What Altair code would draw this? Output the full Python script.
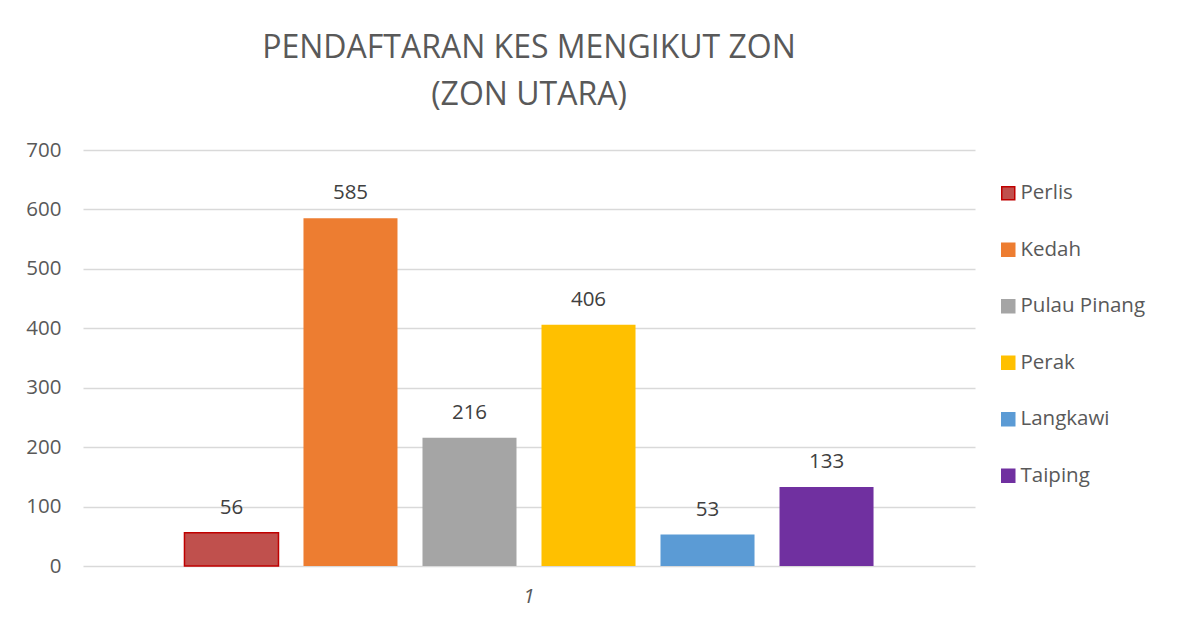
import altair as alt
import pandas as pd

zones = ["Perlis", "Kedah", "Pulau Pinang", "Perak", "Langkawi", "Taiping"]
cases = [56, 585, 216, 406, 53, 133]
group = ["1"] * 6
fills = ["#C0504D", "#ED7D31", "#A5A5A5", "#FFC000", "#5B9BD5", "#7030A0"]
strokes = ["#C00000", "#ED7D31", "#A5A5A5", "#FFC000", "#5B9BD5", "#7030A0"]

df = pd.DataFrame({"Zon": zones, "Kes": cases, "Kumpulan": group})

FONT = "Open Sans"
FS = 20.5

x = alt.X("Kumpulan:N", title=None,
          scale=alt.Scale(paddingInner=0, paddingOuter=0.1246),
          axis=alt.Axis(labelAngle=0, labelFontStyle="italic", labelFontSize=FS,
                        labelColor="#595959", labelPadding=20, ticks=False,
                        domain=False, labelFont=FONT, grid=False))
xo = alt.XOffset("Zon:N", sort=zones,
                 scale=alt.Scale(paddingInner=0.21, paddingOuter=0.105))

base = alt.Chart(df).encode(x=x, xOffset=xo)

leg = dict(title=None, orient="none", legendX=915, legendY=33,
           symbolType="square", symbolSize=169, symbolStrokeWidth=1.5,
           labelFontSize=FS, labelColor="#595959", labelFont=FONT,
           rowPadding=35.5, labelOffset=2, symbolOpacity=1)

bars = base.mark_bar().encode(
    y=alt.Y("Kes:Q", title=None,
            scale=alt.Scale(domain=[0, 700]),
            axis=alt.Axis(values=[0, 100, 200, 300, 400, 500, 600, 700],
                          labelFontSize=FS, labelColor="#595959", labelPadding=22,
                          ticks=False, domain=False, gridColor="#D9D9D9",
                          gridWidth=1.3, labelFont=FONT)),
    fill=alt.Fill("Zon:N", sort=zones,
                  scale=alt.Scale(domain=zones, range=fills),
                  legend=alt.Legend(**leg)),
    stroke=alt.Stroke("Zon:N", sort=zones,
                      scale=alt.Scale(domain=zones, range=strokes),
                      legend=alt.Legend(**leg)),
    strokeWidth=alt.condition(alt.datum.Zon == "Perlis", alt.value(1.5), alt.value(0)),
)

labels = base.mark_text(baseline="bottom", dy=-15, fontSize=FS, color="#404040",
                        font=FONT).encode(
    y=alt.Y("Kes:Q"),
    text=alt.Text("Kes:Q"),
)

chart = alt.layer(bars, labels).properties(
    width=892, height=416,
    padding={"left": 17, "top": 24, "right": 5, "bottom": 5},
    title=alt.TitleParams(["PENDAFTARAN KES MENGIKUT ZON", "(ZON UTARA)"],
                          fontSize=32, font=FONT, fontWeight="normal",
                          color="#595959", lineHeight=47, offset=28,
                          anchor="middle"),
).configure(background="white").configure_view(stroke=None)

chart.save("out.html", embed_options={"renderer": "svg", "actions": False})
